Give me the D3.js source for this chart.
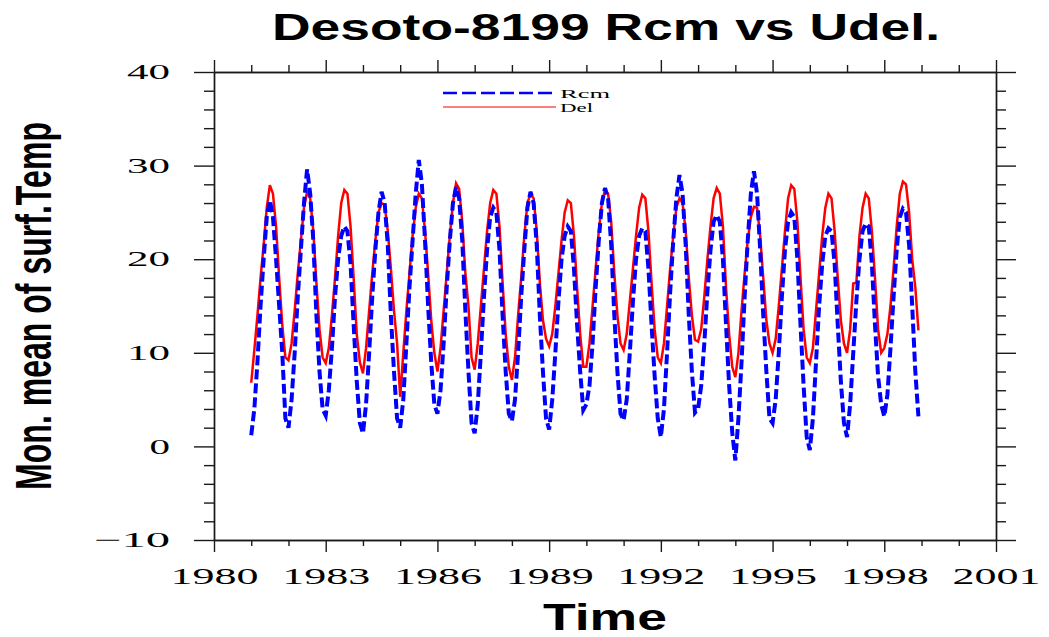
<!DOCTYPE html>
<html>
<head>
<meta charset="utf-8">
<script src="https://cdn.jsdelivr.net/npm/d3@7"></script>
<style>
body { margin: 0; background: #fff; }
.axis path, .axis line { stroke: #1a1a1a; stroke-width: 1.4px; }
</style>
</head>
<body>
<script>
const startYear = 1981

// monthly values, one row per year (Jan..Dec), 1981-1998
const rcm = [
    1.2, 4.0, 9.0, 15.0, 20.0, 24.5, 26.3, 24.5, 20.0, 15.0, 10.0, 3.0,
    2.0, 5.0, 10.0, 16.0, 21.0, 26.0, 29.6, 27.0, 22.0, 14.0, 8.0, 4.0,
    3.3, 6.0, 10.5, 16.0, 20.0, 22.5, 23.5, 23.0, 19.5, 13.0, 7.0, 2.5,
    1.4, 4.5, 10.0, 16.0, 21.0, 25.0, 27.2, 26.0, 21.5, 14.0, 8.0, 3.0,
    2.0, 5.0, 11.0, 17.0, 22.0, 27.0, 30.6, 28.0, 22.0, 15.0, 9.0, 4.5,
    3.5, 6.0, 11.0, 17.0, 22.0, 26.0, 27.7, 26.5, 22.0, 14.5, 8.0, 2.5,
    1.4, 4.5, 10.0, 16.0, 21.0, 24.5, 25.5, 25.0, 21.0, 14.0, 8.0, 3.5,
    2.7, 5.0, 10.0, 16.0, 21.0, 25.5, 27.2, 26.0, 21.5, 14.0, 8.0, 3.0,
    1.8, 5.0, 10.0, 15.5, 20.0, 22.5, 23.5, 23.0, 19.0, 13.0, 8.0, 3.9,
    4.5, 6.5, 11.0, 17.0, 22.0, 26.0, 27.6, 26.5, 21.5, 14.0, 8.0, 3.5,
    2.8, 5.0, 10.0, 15.5, 20.0, 22.5, 23.3, 23.0, 19.0, 13.0, 7.5, 3.0,
    1.0, 4.0, 10.0, 16.5, 22.0, 26.5, 29.0, 27.0, 21.5, 14.0, 8.0, 3.6,
    4.0, 6.5, 11.0, 16.5, 21.0, 24.0, 24.7, 24.0, 20.0, 13.0, 6.5, 1.5,
    -1.5, 3.0, 9.0, 16.0, 22.0, 27.0, 29.4, 27.0, 21.0, 14.0, 8.0, 3.0,
    2.5, 5.0, 10.0, 16.0, 21.0, 24.0, 25.0, 24.5, 20.0, 13.0, 6.5, 1.0,
    -0.4, 3.0, 9.0, 15.0, 19.5, 22.5, 23.3, 23.0, 19.5, 13.0, 7.0, 2.5,
    1.0, 4.5, 10.0, 15.5, 20.0, 23.0, 23.8, 23.5, 19.5, 13.0, 7.5, 4.5,
    3.2, 5.5, 10.5, 16.0, 21.0, 24.5, 25.4, 25.0, 21.5, 15.0, 8.0, 3.2
]

const del = [
    6.8, 10.3, 14.0, 18.0, 21.5, 25.5, 27.9, 27.0, 23.5, 18.0, 13.0, 9.5,
    9.2, 11.0, 14.5, 18.5, 22.0, 25.5, 27.2, 26.5, 23.0, 17.5, 12.5, 9.5,
    8.9, 10.5, 14.0, 18.0, 22.5, 26.0, 27.4, 27.0, 23.5, 18.0, 12.0, 9.0,
    7.8, 10.5, 14.5, 18.5, 22.0, 25.0, 26.0, 25.8, 23.0, 19.0, 14.5, 11.0,
    5.3, 10.0, 14.5, 18.5, 22.5, 25.5, 27.0, 26.5, 23.0, 18.5, 13.5, 10.0,
    8.0, 10.5, 14.5, 18.5, 22.5, 26.0, 28.1, 27.5, 24.0, 18.5, 15.0, 9.5,
    8.2, 11.0, 15.0, 19.0, 23.0, 26.0, 27.4, 27.0, 23.5, 17.5, 12.0, 8.5,
    7.1, 9.5, 14.0, 18.0, 22.5, 26.0, 27.0, 26.5, 23.0, 17.5, 13.5, 11.5,
    10.7, 12.0, 15.0, 18.5, 22.0, 25.0, 26.3, 26.0, 22.5, 17.0, 12.0, 8.5,
    8.5, 11.0, 15.0, 19.0, 23.0, 26.0, 27.4, 27.0, 24.0, 18.5, 14.0, 11.0,
    10.3, 12.0, 15.5, 19.0, 22.5, 25.5, 26.9, 26.5, 23.0, 17.5, 12.5, 9.5,
    8.9, 11.0, 15.0, 19.0, 22.5, 25.5, 26.5, 26.0, 23.0, 18.0, 14.0, 11.4,
    11.2, 12.5, 16.0, 20.0, 23.5, 26.5, 27.6, 27.0, 23.5, 17.0, 12.0, 8.5,
    7.4, 10.0, 14.5, 18.5, 22.0, 24.5, 25.6, 25.5, 22.5, 18.0, 13.5, 11.0,
    10.0, 11.5, 15.0, 19.0, 23.0, 26.5, 27.9, 27.5, 24.0, 18.0, 12.5, 9.5,
    8.9, 10.5, 14.5, 18.5, 22.5, 25.5, 27.0, 26.5, 23.0, 18.0, 13.5, 11.0,
    10.0, 12.5, 17.4, 17.5, 22.5, 25.5, 27.0, 26.5, 23.0, 18.0, 12.5, 10.0,
    10.5, 12.0, 15.0, 19.0, 23.5, 27.0, 28.3, 28.0, 25.0, 20.0, 17.0, 12.4
]

const seriesNames = ['Rcm', 'Del']
const xTicks = [1980, 1983, 1986, 1989, 1992, 1995, 1998, 2001]
const yTicks = [-10, 0, 10, 20, 30, 40]

const xMinors = d3.range(1980, 2002).filter(v => !xTicks.includes(v))
const yMinors = d3.range(-10, 41, 2).filter(v => !yTicks.includes(v))

let margin = { top: 72, right: 53, bottom: 97, left: 214 },
    width = 1049 - margin.left - margin.right,
    height = 637 - margin.top - margin.bottom;

const root = d3.select('body').append('svg')
    .attr('width', 1049)
    .attr('height', 637)

const svg = root.append('g')
    .attr('transform', `translate(${margin.left},${margin.top})`)

const x = d3.scaleLinear().domain([1980, 2001]).range([0, width])
const y = d3.scaleLinear().domain([-10, 40]).range([height, 0])

// stretched serif labels, like the NCL stroke font
const fmt = d3.format('d')
const labelLen = (d, per) => {
    const s = fmt(d)
    let n = s.replace('\u2212', '').length * per
    if (s.includes('\u2212')) n += 33
    return n - 2
}

// Axes
const axes = svg.append('g').attr('class', 'axis-main')
const yl = axes.append('g').attr('class', 'axis')
    .call(d3.axisLeft(y).tickValues(yTicks).tickSize(20).tickSizeOuter(0).tickPadding(24))
axes.append('g').attr('class', 'axis')
    .call(d3.axisLeft(y).tickValues(yMinors).tickSize(10).tickSizeOuter(0).tickFormat(() => ''))
axes.append('g').attr('class', 'axis').attr('transform', `translate(${width},0)`)
    .call(d3.axisRight(y).tickValues(yTicks).tickSize(20).tickSizeOuter(0).tickFormat(() => ''))
axes.append('g').attr('class', 'axis').attr('transform', `translate(${width},0)`)
    .call(d3.axisRight(y).tickValues(yMinors).tickSize(10).tickSizeOuter(0).tickFormat(() => ''))
const xl = axes.append('g').attr('class', 'axis').attr('transform', `translate(0,${height})`)
    .call(d3.axisBottom(x).tickValues(xTicks).tickSize(12).tickSizeOuter(0).tickPadding(15).tickFormat(fmt))
axes.append('g').attr('class', 'axis').attr('transform', `translate(0,${height})`)
    .call(d3.axisBottom(x).tickValues(xMinors).tickSize(6).tickSizeOuter(0).tickFormat(() => ''))
axes.append('g').attr('class', 'axis')
    .call(d3.axisTop(x).tickValues(xTicks).tickSize(12).tickSizeOuter(0).tickFormat(() => ''))
axes.append('g').attr('class', 'axis')
    .call(d3.axisTop(x).tickValues(xMinors).tickSize(7).tickSizeOuter(0).tickFormat(() => ''))

yl.selectAll('text')
    .attr('font-family', 'Liberation Serif')
    .attr('font-size', 21)
    .attr('fill', '#000')
    .attr('textLength', d => labelLen(d, 22.5))
    .attr('lengthAdjust', 'spacingAndGlyphs')
xl.selectAll('text')
    .attr('font-family', 'Liberation Serif')
    .attr('font-size', 24)
    .attr('fill', '#000')
    .attr('textLength', d => labelLen(d, 22.5))
    .attr('lengthAdjust', 'spacingAndGlyphs')

// lines
const line = d3.line()
    .x((d, i) => x(startYear + i / 12))
    .y(d => y(d))

const l = svg.append('g').attr('class', 'line-total')
l.append('path').datum(del)
    .attr('d', line)
    .attr('fill', 'none')
    .attr('stroke', '#ff0000')
    .attr('stroke-width', 2.5)
l.append('path').datum(rcm)
    .attr('d', line)
    .attr('fill', 'none')
    .attr('stroke', '#0000ff')
    .attr('stroke-width', 4)
    .attr('stroke-dasharray', '10,4')

// legend
const sign = root.append('g').attr('class', 'sign')
const legendStyle = [
    { color: '#0000ff', width: 2.5, dash: '14,5', len: 50 },
    { color: '#ff0000', width: 1.2, dash: null, len: 33 }
]
seriesNames.forEach((name, i) => {
    const st = legendStyle[i]
    const ly = 93 + i * 14
    sign.append('line')
        .attr('x1', 443).attr('x2', 556)
        .attr('y1', ly).attr('y2', ly)
        .attr('stroke', st.color)
        .attr('stroke-width', st.width)
        .attr('stroke-dasharray', st.dash)
    sign.append('text')
        .attr('x', 560)
        .attr('y', ly + 5)
        .attr('font-family', 'Liberation Serif')
        .attr('font-size', 13)
        .attr('textLength', st.len)
        .attr('lengthAdjust', 'spacingAndGlyphs')
        .text(name)
})

// titles
root.append('text')
    .attr('x', 606).attr('y', 40)
    .attr('text-anchor', 'middle')
    .attr('font-family', 'Liberation Sans')
    .attr('font-weight', 'bold')
    .attr('font-size', 37)
    .attr('textLength', 668)
    .attr('lengthAdjust', 'spacingAndGlyphs')
    .text('Desoto-8199 Rcm vs Udel.')

root.append('text')
    .attr('x', 605).attr('y', 630)
    .attr('text-anchor', 'middle')
    .attr('font-family', 'Liberation Sans')
    .attr('font-weight', 'bold')
    .attr('font-size', 37)
    .attr('textLength', 124)
    .attr('lengthAdjust', 'spacingAndGlyphs')
    .text('Time')

// y label: squeezed along its length with a scale, not textLength
const yLabel = root.append('text')
    .attr('text-anchor', 'middle')
    .attr('font-family', 'Liberation Sans')
    .attr('font-weight', 'bold')
    .attr('font-size', 50)
    .text('Mon. mean of surf.Temp')
const natural = yLabel.node().getComputedTextLength()
yLabel.attr('transform', `translate(51,306) rotate(-90) scale(${368 / natural},1)`)
</script>
</body>
</html>
